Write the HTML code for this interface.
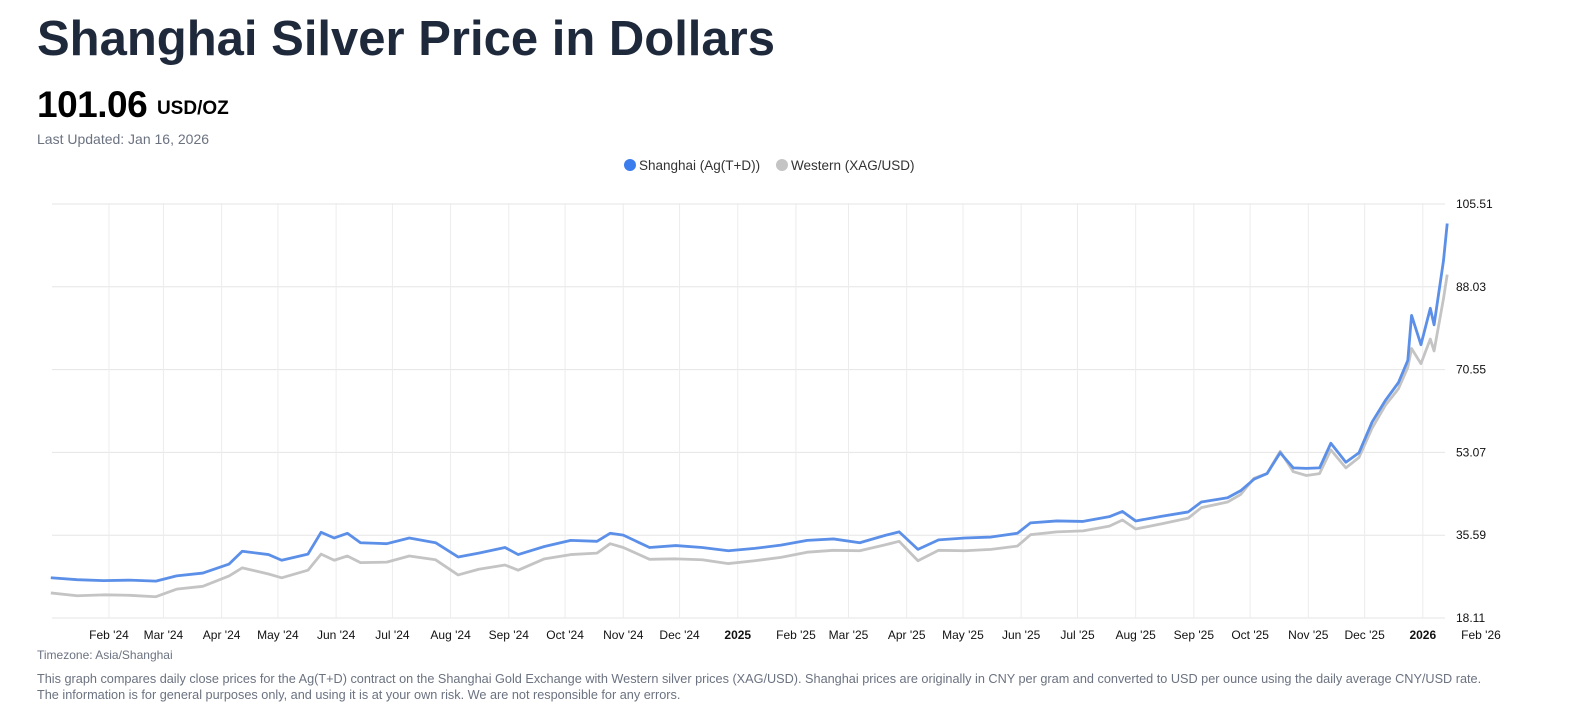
<!DOCTYPE html>
<html><head><meta charset="utf-8"><style>
body{margin:0;background:#fff;font-family:"Liberation Sans",sans-serif;width:1573px;height:719px;overflow:hidden;position:relative}
.t{position:absolute;white-space:nowrap}
</style></head><body>
<div class="t" style="left:37px;top:11px;font-size:49px;font-weight:bold;color:#1e293b;letter-spacing:0px">Shanghai Silver Price in Dollars</div>
<div class="t" style="left:37px;top:84px;font-size:37px;font-weight:bold;color:#000;letter-spacing:-0.5px">101.06 <span style="font-size:19px;letter-spacing:0;vertical-align:3px">USD/OZ</span></div>
<div class="t" style="left:37px;top:131px;font-size:14px;color:#6b7280">Last Updated: Jan 16, 2026</div>
<svg id="chart" width="1573" height="719" style="position:absolute;left:0;top:0"></svg>
<div class="t" style="left:37px;top:648px;font-size:12px;color:#6b7280">Timezone: Asia/Shanghai</div>
<div class="t" style="left:37px;top:671px;font-size:12.7px;color:#6b7280;line-height:16px">This graph compares daily close prices for the Ag(T+D) contract on the Shanghai Gold Exchange with Western silver prices (XAG/USD). Shanghai prices are originally in CNY per gram and converted to USD per ounce using the daily average CNY/USD rate.<br>The information is for general purposes only, and using it is at your own risk. We are not responsible for any errors.</div>
<script>
const dates=["2024-01-01","2024-01-15","2024-01-29","2024-02-12","2024-02-26","2024-03-08","2024-03-22","2024-04-05","2024-04-12","2024-04-26","2024-05-03","2024-05-17","2024-05-24","2024-05-31","2024-06-07","2024-06-14","2024-06-28","2024-07-10","2024-07-24","2024-08-05","2024-08-16","2024-08-30","2024-09-06","2024-09-20","2024-10-04","2024-10-18","2024-10-25","2024-11-01","2024-11-15","2024-11-29","2024-12-13","2024-12-27","2025-01-10","2025-01-24","2025-02-07","2025-02-21","2025-03-07","2025-03-21","2025-03-28","2025-04-07","2025-04-18","2025-05-02","2025-05-16","2025-05-30","2025-06-06","2025-06-20","2025-07-04","2025-07-18","2025-07-25","2025-08-01","2025-08-15","2025-08-29","2025-09-05","2025-09-19","2025-09-26","2025-10-03","2025-10-10","2025-10-17","2025-10-24","2025-10-31","2025-11-07","2025-11-13","2025-11-21","2025-11-28","2025-12-05","2025-12-12","2025-12-19","2025-12-24","2025-12-26","2025-12-31","2026-01-05","2026-01-07","2026-01-12","2026-01-14"];
const shanghai=[26.6,26.2,26.0,26.1,25.9,27.0,27.6,29.5,32.2,31.5,30.3,31.6,36.2,35.0,36.0,34.0,33.8,35.0,34.0,31.0,31.8,33.0,31.5,33.2,34.5,34.3,36.0,35.6,33.0,33.4,33.0,32.3,32.8,33.5,34.5,34.8,34.0,35.6,36.3,32.6,34.6,35.0,35.2,36.0,38.2,38.6,38.5,39.5,40.6,38.6,39.6,40.5,42.6,43.5,45.0,47.4,48.6,53.0,49.8,49.7,49.8,55.0,51.0,53.0,59.5,64.0,67.8,72.5,82.0,75.8,83.5,80.0,93.5,101.4];
const western=[23.4,22.8,23.0,22.9,22.6,24.2,24.8,27.0,28.7,27.4,26.6,28.2,31.6,30.3,31.2,29.8,29.9,31.2,30.4,27.2,28.4,29.3,28.2,30.6,31.5,31.8,33.8,33.0,30.5,30.6,30.4,29.6,30.2,30.9,32.0,32.4,32.3,33.6,34.3,30.2,32.4,32.3,32.6,33.3,35.7,36.3,36.5,37.5,38.8,36.9,38.0,39.2,41.4,42.6,44.2,47.6,48.6,53.3,49.0,48.2,48.6,53.6,49.8,52.0,58.2,63.0,66.5,71.0,75.0,71.8,77.0,74.5,85.5,90.6];
const yTicks=[18.11,35.59,53.07,70.55,88.03,105.51];
const xTicks=["2024-02-01","2024-03-01","2024-04-01","2024-05-01","2024-06-01","2024-07-01","2024-08-01","2024-09-01","2024-10-01","2024-11-01","2024-12-01","2025-01-01","2025-02-01","2025-03-01","2025-04-01","2025-05-01","2025-06-01","2025-07-01","2025-08-01","2025-09-01","2025-10-01","2025-11-01","2025-12-01","2026-01-01","2026-02-01"];
const xLabels=["Feb '24","Mar '24","Apr '24","May '24","Jun '24","Jul '24","Aug '24","Sep '24","Oct '24","Nov '24","Dec '24","2025","Feb '25","Mar '25","Apr '25","May '25","Jun '25","Jul '25","Aug '25","Sep '25","Oct '25","Nov '25","Dec '25","2026","Feb '26"];
const NS="http://www.w3.org/2000/svg";
const svg=document.getElementById('chart');
const d0=Date.parse("2024-02-01"),d1=Date.parse("2026-02-01");
const X=s=>109+(Date.parse(s)-d0)/(d1-d0)*(1481-109);
const Y=v=>618-(v-18.11)/(105.51-18.11)*414;
function mk(t,a){const e=document.createElementNS(NS,t);for(const k in a)e.setAttribute(k,a[k]);svg.appendChild(e);return e;}
yTicks.forEach(v=>{
  const l=mk('line',{x1:52,x2:1445,y1:Y(v),y2:Y(v),stroke:'#e5e5e5'});
  
  
  const t=mk('text',{x:1456,y:Y(v)+4,'font-size':12,fill:'#111','font-family':'Liberation Sans'});
  t.textContent=v.toFixed(2);
  
  
});
xTicks.forEach((d,i)=>{
  const x=X(d);
  if(x<1450){const l=mk('line',{x1:x,x2:x,y1:203,y2:618,stroke:'#ececec'});
  
  }
  const bold=xLabels[i].length===4;
  const t=mk('text',{x:x,y:639,'font-size':12,fill:'#111','text-anchor':'middle','font-family':'Liberation Sans','font-weight':bold?'bold':'normal'});
  t.textContent=xLabels[i];
  
  
});
function line(vals,col,name){
  const p=mk('polyline',{points:vals.map((v,i)=>X(dates[i])+','+Y(v)).join(' '),fill:'none',stroke:col,'stroke-width':2.8,'stroke-linejoin':'round'});
  
  
}
line(western,'#c4c4c4','western-line');
line(shanghai,'#5b8fe8','shanghai-line');
const c1=mk('circle',{cx:630,cy:165,r:6,fill:'#3b7ded'});


const t1=mk('text',{x:639,y:170,'font-size':13.5,fill:'#333','font-family':'Liberation Sans'});
t1.textContent='Shanghai (Ag(T+D))';


const c2=mk('circle',{cx:782,cy:165,r:6,fill:'#c4c4c4'});


const t2=mk('text',{x:791,y:170,'font-size':13.5,fill:'#333','font-family':'Liberation Sans'});
t2.textContent='Western (XAG/USD)';


</script>
</body></html>
